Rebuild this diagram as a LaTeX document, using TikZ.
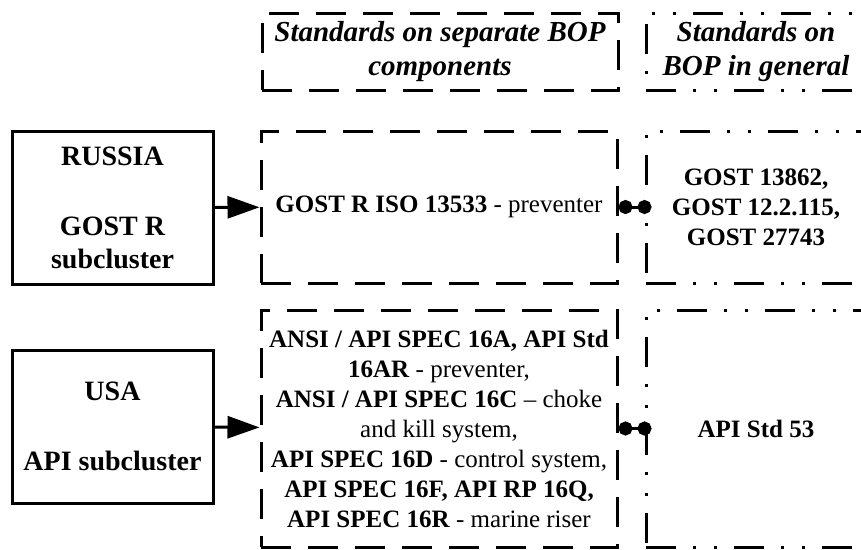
\documentclass[tikz,border=0pt]{standalone}
\usepackage{fontspec}
\setmainfont{Liberation Serif}
\usetikzlibrary{arrows.meta}

\begin{document}
\begin{tikzpicture}[x=1pt,y=-1pt,line width=3pt]
                \tikzstyle{country}=[rectangle,draw=black,minimum width=201pt,minimum height=153pt,inner sep=0pt,align=center,font=\fontsize{28}{33}\selectfont\bfseries]
                \tikzstyle{separate}=[rectangle,draw=black,dash pattern=on 30pt off 17pt,minimum width=356pt,inner sep=0pt,align=center,font=\fontsize{25}{30}\selectfont]
                \tikzstyle{general}=[rectangle,draw=black,dash pattern=on 30pt off 17pt on 3pt off 18pt on 3pt off 17pt,minimum width=220pt,inner sep=0pt,align=center,font=\fontsize{25}{30}\selectfont\bfseries]
                \tikzstyle{heading}=[minimum height=77pt,font=\fontsize{29}{34}\selectfont\bfseries\itshape]
                \useasboundingbox (0,0) rectangle (861,549);
                        \node[separate,heading] (S-0) at (440,51.5) {Standards on separate BOP\\components};
                        \node[general,heading] (G-0) at (756,51.5) {Standards on\\BOP in general};
                        \node[country] (C-1) at (112.5,207.5) {RUSSIA\\[37pt]GOST R\\subcluster};
                        \node[country] (C-2) at (112.5,426.5) {USA\\[37pt]API subcluster};
                        \node[separate,minimum height=152pt] (S-1) at (439,207) {\textbf{GOST R ISO 13533} - preventer};
                        \node[general,minimum height=152pt] (G-1) at (756,207) {GOST 13862,\\GOST 12.2.115,\\GOST 27743};
                        \node[separate,minimum height=237pt] (S-2) at (439,428.5) {\textbf{ANSI / API SPEC 16A, API Std}\\\textbf{16AR} - preventer,\\\textbf{ANSI / API SPEC 16C} – choke\\and kill system,\\\textbf{API SPEC 16D} - control system,\\\textbf{API SPEC 16F, API RP 16Q,}\\\textbf{API SPEC 16R} - marine riser};
                        \node[general,minimum height=237pt] (G-2) at (756,428.5) {API Std 53};

                    \foreach \i in {1,2}
                        \draw[-{Triangle[length=32pt,width=22pt]}] (C-\i) -- (S-\i);
                    \foreach \i in {1,2}
                        \draw[{Circle[length=14pt]}-{Circle[length=14pt]},shorten >=-7pt] (S-\i) -- (G-\i);
\end{tikzpicture}
\end{document}
